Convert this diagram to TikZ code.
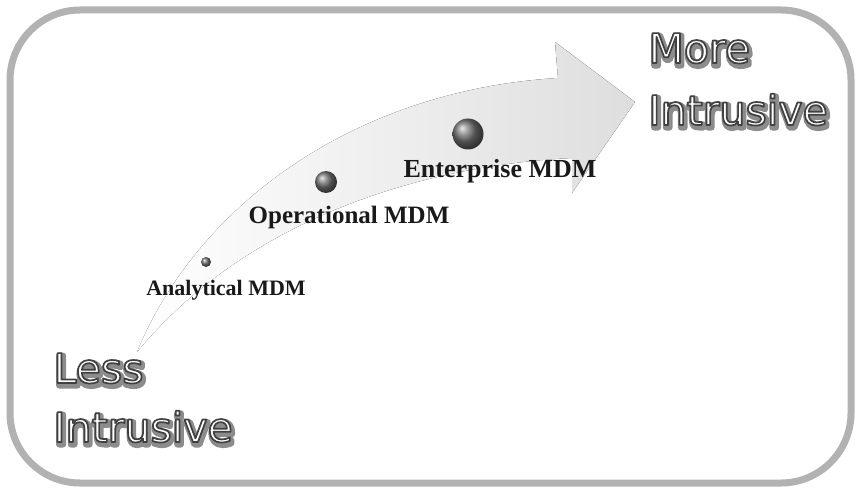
\documentclass[tikz,border=0pt]{standalone}
\usepackage{fontspec}
\setmainfont{Liberation Serif}
\newfontfamily\glowfont{DejaVu Sans}
\usetikzlibrary{shadings}

% outlined text through the pdf text render mode
\newcommand{\glowword}[1]{%
  {\color{white}\special{pdf:code 2 Tr 1.7 w 1 j 0.25 0.25 0.25 RG}#1\special{pdf:code 0 Tr}}}
\newcommand{\haloword}[1]{%
  {\color{black!40}\special{pdf:code 2 Tr 6 w 1 j 0.55 0.55 0.55 RG}#1\special{pdf:code 0 Tr}}}

\tikzset{
  frame/.style={draw=black!30, line width=7pt, rounded corners=70pt},
  band/.style={left color=white, middle color=black!9, right color=black!13, draw=none},
  stagedot/.style={circle, shading=ball, ball color=black!55, inner sep=0pt},
  stagelabel/.style={font=\bfseries, anchor=base, text=black!90},
  halo/.style={anchor=base west, font=\glowfont\fontsize{41}{41}\selectfont},
  glow/.style={anchor=base west, font=\glowfont\fontsize{41}{41}\selectfont}
}

\begin{document}
\begin{tikzpicture}[x=1pt,y=-1pt]

  \useasboundingbox (0,0) rectangle (858,489);

  % outer frame
  \draw[frame] (10,10) rectangle (851,483);

  % curved arrow
  \fill[band] (137,352) .. controls (200,200) and (360,90) .. (558,78)
    -- (555,42) -- (635,102) -- (572,193) -- (572,158)
    .. controls (430,165) and (250,215) .. (137,352) -- cycle;

  % stages
  \node[stagedot, minimum size=10pt] (anadot) at (206,262) {};
  \node[stagedot, minimum size=22pt] (opdot)  at (326,182) {};
  \node[stagedot, minimum size=31pt] (entdot) at (468,134) {};

  \node[stagelabel, font=\bfseries\fontsize{22}{22}\selectfont] (analytical)  at (226,295) {Analytical MDM};
  \node[stagelabel, font=\bfseries\fontsize{25}{25}\selectfont] (operational) at (349,223) {Operational MDM};
  \node[stagelabel, font=\bfseries\fontsize{26}{26}\selectfont] (enterprise)  at (500,177) {Enterprise MDM};

  % end labels
  \begin{scope}[shift={(1.5,2.5)}]
  \node[halo] at (645,63)  {\haloword{More}};
  \node[halo] at (645,125) {\haloword{Intrusive}};
  \node[halo] at (50,383)  {\haloword{Less}};
  \node[halo] at (50,442)  {\haloword{Intrusive}};
  \end{scope}

  \node[glow] (more)   at (645,63)  {\glowword{More}};
  \node[glow] (moreb)  at (645,125) {\glowword{Intrusive}};
  \node[glow] (less)   at (50,383)  {\glowword{Less}};
  \node[glow] (lessb)  at (50,442)  {\glowword{Intrusive}};

\end{tikzpicture}
\end{document}
